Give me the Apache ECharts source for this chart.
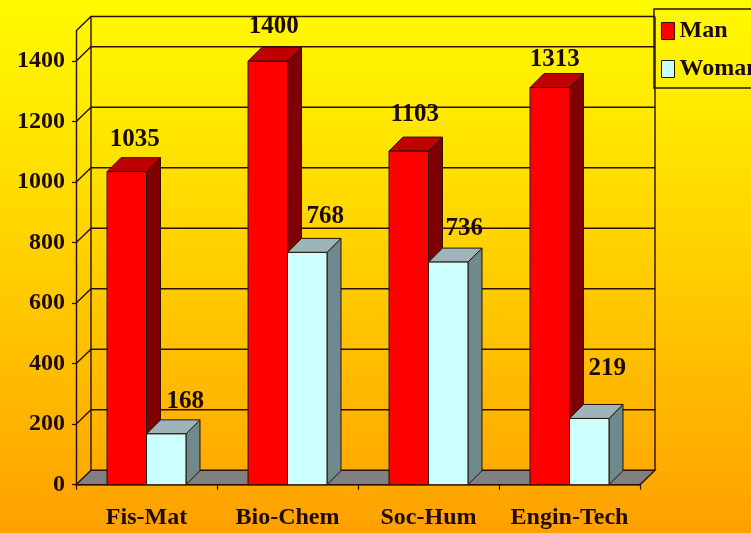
<!DOCTYPE html>
<html>
<head>
<meta charset="utf-8">
<style>html,body{margin:0;padding:0;background:#ffa500}#c{width:751px;height:533px}</style>
<script src="https://cdn.jsdelivr.net/npm/echarts@6/dist/echarts.min.js"></script>
</head>
<body>
<div id="c"></div>
<script>
const categories = ['Fis-Mat', 'Bio-Chem', 'Soc-Hum', 'Engin-Tech'];
const man = [1035, 1400, 1103, 1313];
const woman = [168, 768, 736, 219];
const yTicks = [0, 200, 400, 600, 800, 1000, 1200, 1400];
const wallLines = [0, 200, 400, 600, 800, 1000, 1200, 1400, 1500];

const FONT = '"Liberation Serif","Times New Roman",serif';
const INK = '#2a1000';
const WALL_DX = 15, WALL_DY = 14.5, BAR_D = 14, BAR_FRAC = 0.28;
// Hand placement of the value labels relative to their bars, per category.
const manLabelPlace = { dx: [8, 6, 6, 5], lift: [32, 35, 37, 28] };
const womanLabelPlace = { dx: [19, 18, 16, 18], lift: [32, 36, 34, 50] };

function barRenderer(side, colors, place) {
  return function (params, api) {
    const idx = api.value(0);
    const base = api.coord([idx, 0]);
    const top = api.coord([idx, api.value(1)]);
    const w = api.size([1, 0])[0] * BAR_FRAC;
    const x0 = side < 0 ? base[0] - w : base[0];
    const x1 = x0 + w, y0 = base[1], y1 = top[1];
    const line = { stroke: INK, lineWidth: 1, lineJoin: 'round' };
    return {
      type: 'group',
      children: [
        { type: 'polygon', shape: { points: [[x1, y1], [x1 + BAR_D, y1 - BAR_D], [x1 + BAR_D, y0 - BAR_D], [x1, y0]] },
          style: Object.assign({ fill: colors.side }, line) },
        { type: 'polygon', shape: { points: [[x0, y1], [x0 + BAR_D, y1 - BAR_D], [x1 + BAR_D, y1 - BAR_D], [x1, y1]] },
          style: Object.assign({ fill: colors.top }, line) },
        { type: 'rect', shape: { x: x0, y: y1, width: w, height: y0 - y1 },
          style: Object.assign({ fill: colors.front }, line) },
        { type: 'text', x: (x0 + x1) / 2 + place.dx[idx], y: y1 - place.lift[idx],
          style: { text: String(api.value(1)), fill: '#1a0a00', font: 'bold 25px ' + FONT, align: 'center', verticalAlign: 'middle' } }
      ]
    };
  };
}

function wallRenderer(params, api) {
  const cs = params.coordSys;
  const left = cs.x, right = cs.x + cs.width;
  const v = api.value(1);
  const y = api.coord([0, v])[1];
  const stroke = { stroke: INK, lineWidth: 1.4 };
  const kids = [];
  if (v === 0) {
    kids.push({ type: 'polygon', shape: { points: [[left, y], [left + WALL_DX, y - WALL_DY], [right + WALL_DX, y - WALL_DY], [right, y]] },
      style: { fill: '#808080', stroke: INK, lineWidth: 1.4 } });
  } else {
    kids.push({ type: 'polyline', shape: { points: [[left, y], [left + WALL_DX, y - WALL_DY], [right + WALL_DX, y - WALL_DY]] },
      style: Object.assign({ fill: 'none' }, stroke) });
  }
  if (v === 1500) {
    const yb = api.coord([0, 0])[1] - WALL_DY;
    kids.push({ type: 'line', shape: { x1: left + WALL_DX, y1: y - WALL_DY, x2: left + WALL_DX, y2: yb }, style: stroke });
    kids.push({ type: 'line', shape: { x1: right + WALL_DX, y1: y - WALL_DY, x2: right + WALL_DX, y2: yb }, style: stroke });
  }
  return { type: 'group', children: kids };
}

const chart = echarts.init(document.getElementById('c'), null, { renderer: 'canvas' });
chart.setOption({
  animation: false,
  backgroundColor: new echarts.graphic.LinearGradient(0, 0, 0, 1, [
    { offset: 0, color: '#FFFA00' },
    { offset: 0.2, color: '#FFEA00' },
    { offset: 1, color: '#FFA000' }
  ]),
  grid: { left: 76, right: 111, top: 31, bottom: 48.3, containLabel: false },
  legend: {
    orient: 'vertical', left: 654, top: 9,
    padding: [10, 24, 7, 7], itemGap: 14, itemWidth: 13, itemHeight: 17, itemStyle: { borderColor: INK, borderWidth: 1 },
    borderColor: '#2a1000', borderWidth: 1.5,
    icon: 'rect',
    data: ['Man', 'Woman'],
    textStyle: { fontFamily: FONT, fontWeight: 'bold', fontSize: 24, color: '#1a0a00' }
  },
  xAxis: {
    type: 'category', data: categories,
    axisLine: { lineStyle: { color: INK, width: 1.4 } },
    axisTick: { show: true, length: 5, lineStyle: { color: INK, width: 1.2 } },
    axisLabel: { interval: 0, hideOverlap: false, fontFamily: FONT, fontWeight: 'bold', fontSize: 24, color: '#1f0c00', margin: 21 }
  },
  yAxis: {
    type: 'value', min: 0, max: 1500,
    axisLine: { show: true, lineStyle: { color: INK, width: 1.4 } },
    axisTick: { show: true, length: 4, customValues: yTicks, lineStyle: { color: INK, width: 1.2 } },
    axisLabel: { fontFamily: FONT, fontWeight: 'bold', fontSize: 24, color: '#1f0c00', margin: 11, customValues: yTicks,
      formatter: v => String(v) },
    splitLine: { show: false }
  },
  series: [
    { type: 'custom', name: 'wall', z: 1, clip: false, silent: true, renderItem: wallRenderer,
      encode: { x: 0, y: 1 }, data: wallLines.map(v => [0, v]) },
    { type: 'custom', name: 'Man', z: 2, clip: false,
      renderItem: barRenderer(-1, { front: '#FF0000', top: '#BF0000', side: '#7F0000' }, manLabelPlace),
      itemStyle: { color: '#FF0000' },
      encode: { x: 0, y: 1 }, data: man.map((v, i) => [i, v]) },
    { type: 'custom', name: 'Woman', z: 3, clip: false,
      renderItem: barRenderer(1, { front: '#CCFFFF', top: '#9DB5BA', side: '#6E8A8C' }, womanLabelPlace),
      itemStyle: { color: '#CCFFFF' },
      encode: { x: 0, y: 1 }, data: woman.map((v, i) => [i, v]) }
  ]
});
</script>
</body>
</html>
